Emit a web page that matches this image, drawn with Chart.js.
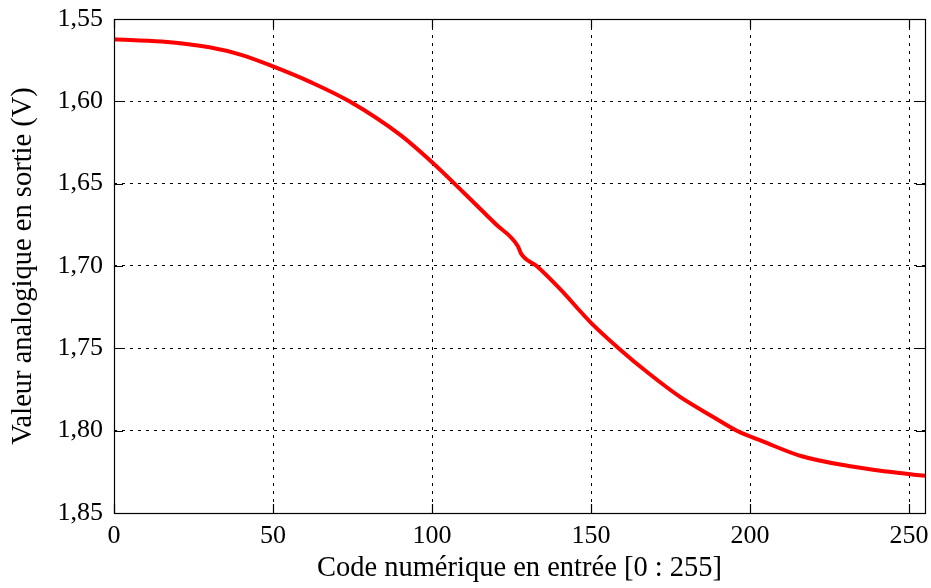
<!DOCTYPE html>
<html>
<head>
<meta charset="utf-8">
<script src="https://cdn.jsdelivr.net/npm/chart.js@4"></script>
<style>
  html, body { margin: 0; padding: 0; background: #fff; }
  #wrap { width: 931px; height: 588px; }
</style>
</head>
<body>
<div id="wrap"><canvas id="dac-chart" width="931" height="588"></canvas></div>
<script>
// codes numeriques
const codes = [0, 15, 30, 40, 50, 62, 74, 90, 100, 110, 120, 127, 128, 133, 140, 150, 159, 168, 178, 188, 196, 204, 216, 231, 243, 255];
// tension de sortie (V)
const volts = [1.5623, 1.5637, 1.5672, 1.5718, 1.5788, 1.5885, 1.6000, 1.6204, 1.6370, 1.6555, 1.6745, 1.6880, 1.6925, 1.7002, 1.7135, 1.7345, 1.7505, 1.7650, 1.7795, 1.7912, 1.8002, 1.8065, 1.8154, 1.8215, 1.8248, 1.8274];

const xTicks = [0, 50, 100, 150, 200, 250];
const yTicks = [1.55, 1.60, 1.65, 1.70, 1.75, 1.80, 1.85];

const serif = "'Liberation Serif', 'DejaVu Serif', serif";

// cadre + graduations vers l'interieur (comme pgfplots)
const framePlugin = {
  id: 'frame',
  afterDraw(chart) {
    const {ctx, chartArea: a, scales} = chart;
    const len = 9;
    ctx.save();
    ctx.strokeStyle = '#000';
    ctx.lineWidth = 1.2;
    ctx.setLineDash([]);
    ctx.beginPath();
    scales.x.ticks.forEach(t => {
      const px = Math.round(scales.x.getPixelForValue(t.value)) + 0.5;
      ctx.moveTo(px, a.bottom); ctx.lineTo(px, a.bottom - len);
      ctx.moveTo(px, a.top); ctx.lineTo(px, a.top + len);
    });
    scales.y.ticks.forEach(t => {
      const py = Math.round(scales.y.getPixelForValue(t.value)) + 0.5;
      ctx.moveTo(a.left, py); ctx.lineTo(a.left + len, py);
      ctx.moveTo(a.right, py); ctx.lineTo(a.right - len, py);
    });
    ctx.stroke();
    ctx.strokeRect(a.left + 0.5, a.top + 0.5, a.right - a.left, a.bottom - a.top);
    ctx.restore();
  }
};

new Chart("dac-chart", {
  type: "line",
  data: {
    datasets: [{
      data: codes.map((c, i) => ({x: c, y: volts[i]})),
      borderColor: "rgb(255,0,0)",
      borderWidth: 4,
      pointRadius: 0,
      cubicInterpolationMode: "monotone",
      fill: false
    }]
  },
  options: {
    responsive: false,
    animation: false,
    layout: { padding: { top: 19, right: 6, left: 0, bottom: 0 } },
    plugins: { legend: { display: false }, tooltip: { enabled: false } },
    scales: {
      x: {
        type: "linear",
        min: 0,
        max: 255,
        afterBuildTicks: s => { s.ticks = xTicks.map(v => ({value: v})); },
        afterFit: s => { s.height = 75; s.paddingLeft = 0; s.paddingRight = 0; },
        grid: { color: "#000", lineWidth: 1, drawTicks: false },
        border: { display: false, dash: [3, 5] },
        ticks: { color: "#000", padding: 8, font: { family: serif, size: 26 }, maxRotation: 0 },
        title: { display: true, text: "Code numérique en entrée [0 : 255]", color: "#000", font: { family: serif, size: 28.5 }, padding: { top: 0, bottom: 2 } }
      },
      y: {
        type: "linear",
        reverse: true,
        min: 1.55,
        max: 1.85,
        afterBuildTicks: s => { s.ticks = yTicks.map(v => ({value: v})); },
        afterFit: s => { s.width = 114; s.paddingTop = 0; s.paddingBottom = 0; },
        grid: { color: "#000", lineWidth: 1, drawTicks: false },
        border: { display: false, dash: [3, 5] },
        ticks: { color: "#000", padding: 11, font: { family: serif, size: 26 },
          callback: v => v.toFixed(2).replace(".", ",") },
        title: { display: true, text: "Valeur analogique en sortie (V)", color: "#000", font: { family: serif, size: 28.5 }, padding: { top: 6, bottom: 0 } }
      }
    }
  },
  plugins: [framePlugin]
});
</script>
</body>
</html>
